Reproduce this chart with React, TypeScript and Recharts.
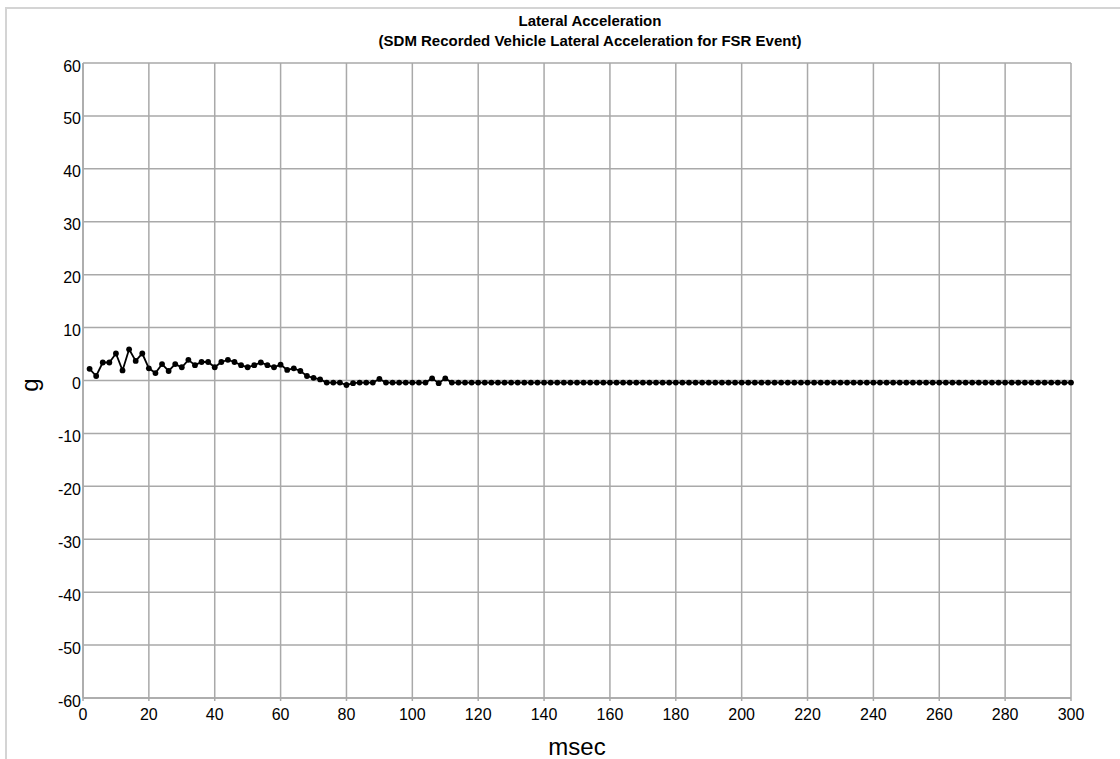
import React from 'react'
import { LineChart, Line, XAxis, YAxis, CartesianGrid } from 'recharts'

// SDM lateral acceleration samples (g), one every 2 msec starting at 2 msec
const SAMPLE_MS = 2
const lateralG: number[] = [
  2.2, 0.85, 3.4, 3.4, 5.1, 1.9, 5.9, 3.7, 5.1, 2.3,
  1.4, 3.1, 1.8, 3.1, 2.5, 3.9, 2.9, 3.5, 3.5, 2.5,
  3.5, 3.9, 3.5, 2.9, 2.5, 2.9, 3.4, 2.9, 2.5, 3.0,
  2.0, 2.3, 1.8, 0.85, 0.5, 0.2, -0.4, -0.4, -0.4, -0.85,
  -0.5, -0.4, -0.4, -0.4, 0.3, -0.4, -0.4, -0.4, -0.4, -0.4,
  -0.4, -0.4, 0.4, -0.5, 0.4, -0.4, -0.4, -0.4, -0.4, -0.4,
  -0.4, -0.4, -0.4, -0.4, -0.4, -0.4, -0.4, -0.4, -0.4, -0.4,
  -0.4, -0.4, -0.4, -0.4, -0.4, -0.4, -0.4, -0.4, -0.4, -0.4,
  -0.4, -0.4, -0.4, -0.4, -0.4, -0.4, -0.4, -0.4, -0.4, -0.4,
  -0.4, -0.4, -0.4, -0.4, -0.4, -0.4, -0.4, -0.4, -0.4, -0.4,
  -0.4, -0.4, -0.4, -0.4, -0.4, -0.4, -0.4, -0.4, -0.4, -0.4,
  -0.4, -0.4, -0.4, -0.4, -0.4, -0.4, -0.4, -0.4, -0.4, -0.4,
  -0.4, -0.4, -0.4, -0.4, -0.4, -0.4, -0.4, -0.4, -0.4, -0.4,
  -0.4, -0.4, -0.4, -0.4, -0.4, -0.4, -0.4, -0.4, -0.4, -0.4,
  -0.4, -0.4, -0.4, -0.4, -0.4, -0.4, -0.4, -0.4, -0.4, -0.4,
]

const xTicks = [0, 20, 40, 60, 80, 100, 120, 140, 160, 180, 200, 220, 240, 260, 280, 300]
const yTicks = [-60, -50, -40, -30, -20, -10, 0, 10, 20, 30, 40, 50, 60]

const titleLine1 = 'Lateral Acceleration'
const titleLine2 = '(SDM Recorded Vehicle Lateral Acceleration for FSR Event)'

const FONT = '"Liberation Sans", Arial, sans-serif'
const GRID = '#a9a9a9'

const data = lateralG.map((g, i) => ({ t: (i + 1) * SAMPLE_MS, g }))

const XTick = (props: any) => {
  const { x, y, payload } = props
  return (
    <text x={x} y={y} dy={17} textAnchor="middle" fontSize={16} fontFamily={FONT} fill="#000">
      {payload.value}
    </text>
  )
}

const YTick = (props: any) => {
  const { x, y, payload } = props
  return (
    <text x={x} y={y} dy={8.5} textAnchor="end" fontSize={16} fontFamily={FONT} fill="#000">
      {payload.value}
    </text>
  )
}

export default function App() {
  return (
    <div style={{ position: 'absolute', left: 0, top: 0, width: 1120, height: 759, background: '#fff' }}>
      <div style={{ position: 'absolute', left: 5, top: 7, width: 1115, height: 752, borderLeft: '2px solid #d4d4d4', borderTop: '2px solid #d4d4d4' }} />
      <div style={{ position: 'absolute', left: 0, top: 0 }}>
        <LineChart width={1120} height={759} data={data} margin={{ top: 63, right: 49, left: 0, bottom: 0 }}>
          <CartesianGrid stroke={GRID} strokeWidth={1.5} horizontalValues={yTicks} verticalValues={xTicks} />
          <XAxis
            dataKey="t"
            type="number"
            domain={[0, 300]}
            ticks={xTicks}
            interval={0}
            height={61}
            stroke={GRID}
            strokeWidth={1.5}
            tickSize={3}
            tickMargin={2}
            tick={<XTick />}
            label={{
              content: () => (
                <text x={577} y={755} textAnchor="middle" fontSize={24} fontFamily={FONT} fill="#000">
                  msec
                </text>
              ),
            }}
          />
          <YAxis
            type="number"
            domain={[-60, 60]}
            ticks={yTicks}
            interval={0}
            width={83}
            stroke={GRID}
            strokeWidth={1.5}
            tickLine={false}
            tickSize={0}
            tickMargin={2}
            tick={<YTick />}
            label={{
              content: () => (
                <text x={38} y={385} transform="rotate(-90, 38, 385)" textAnchor="middle" fontSize={24} fontFamily={FONT} fill="#000">
                  g
                </text>
              ),
            }}
          />
          <Line
            dataKey="g"
            type="linear"
            stroke="#000"
            strokeWidth={1.8}
            dot={{ r: 2.9, fill: '#000', stroke: 'none' }}
            activeDot={false}
            isAnimationActive={false}
          />
        </LineChart>
      </div>
      <div style={{ position: 'absolute', left: 0, top: 0, width: 1180, textAlign: 'center', fontFamily: FONT, fontWeight: 'bold', fontSize: 15, color: '#000', pointerEvents: 'none' }}>
        <div style={{ position: 'absolute', left: 0, top: 12, width: 1180, lineHeight: '17px' }}>{titleLine1}</div>
        <div style={{ position: 'absolute', left: 0, top: 32, width: 1180, lineHeight: '17px' }}>{titleLine2}</div>
      </div>
    </div>
  )
}
